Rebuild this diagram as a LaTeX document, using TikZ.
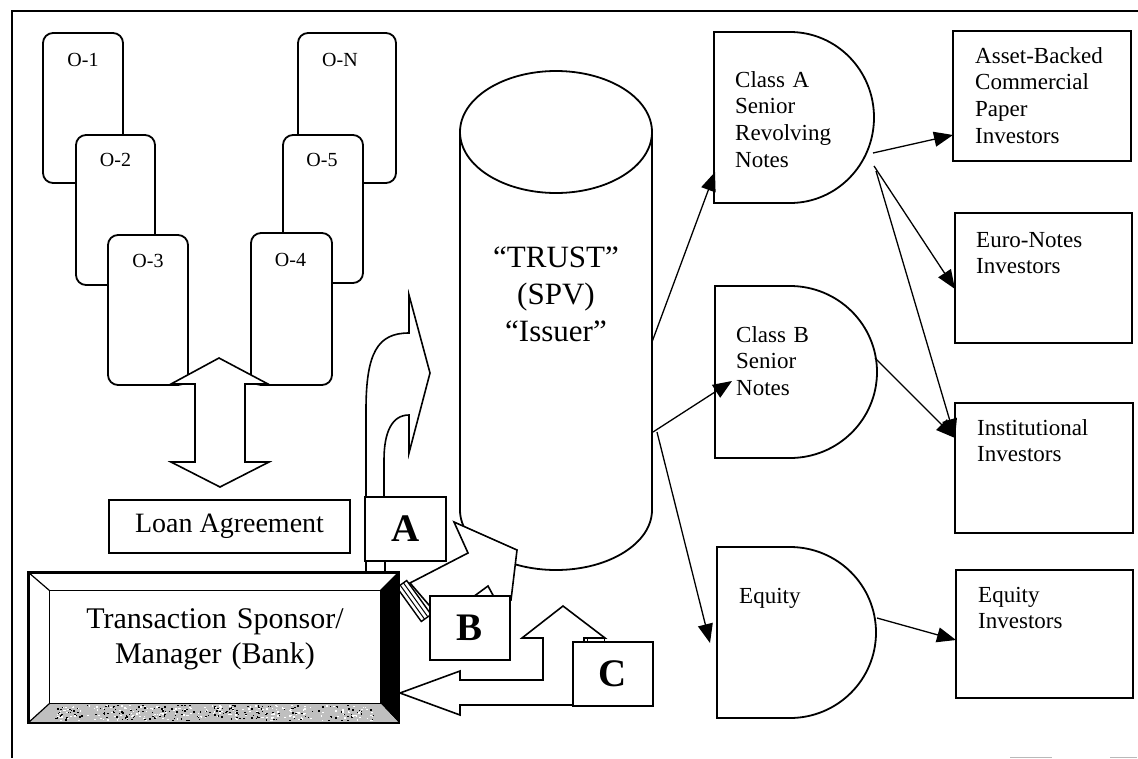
\documentclass[tikz,border=0pt]{standalone}
\usepackage{fontspec}
\setmainfont{Liberation Serif}
\usetikzlibrary{arrows.meta,calc}
\newcommand\dgcard{\fontsize{20}{24}\selectfont}
\newcommand\dgnote{\fontsize{23}{26.7}\selectfont}
\newcommand\dgloan{\fontsize{28}{33}\selectfont}
\newcommand\dgbank{\fontsize{30}{35}\selectfont}
\newcommand\dgtrust{\fontsize{31}{37}\selectfont}
\newcommand\dgletter{\fontsize{39}{45}\selectfont\bfseries}
\begin{document}
\begin{tikzpicture}[x=1pt,y=-1pt,
  outline/.style={line width=1.8pt},
  card/.style={draw, outline, fill=white, rounded corners=10pt, minimum height=150pt, inner sep=0pt},
  plainbox/.style={draw, outline, fill=white, inner sep=0pt},
  blockarrow/.style={draw, line width=1.6pt, fill=white, line join=miter},
  flow/.style={line width=1.3pt, -{Triangle[length=19pt,width=15pt]}},
  cardtext/.style={font=\dgcard, inner sep=0pt, anchor=base},
  notetext/.style={font=\dgnote, align=left, text width=150pt, inner sep=0pt, anchor=base west},
  letter/.style={font=\dgletter},
]
\useasboundingbox (0,0) rectangle (1138,758);

% page frame
\draw[outline] (1138,11) -- (12,11) -- (12,758);
\draw[gray!55, line width=1pt] (1010,757) -- (1052,757) (1110,757) -- (1137,757);

% originator cards, left stack
\node[card, minimum width=80pt] (o1) at (83,108) {};
\node[cardtext] (o1t) at ($(o1.north)+(0,34)$) {O-1};
\node[card, minimum width=79pt] (o2) at (115.5,210) {};
\node[cardtext] (o2t) at ($(o2.north)+(0,32)$) {O-2};
\node[card, minimum width=80pt] (o3) at (148,310) {};
\node[cardtext] (o3t) at ($(o3.north)+(0,33)$) {O-3};
% originator cards, right stack
\node[card, minimum width=98pt] (oN) at (347,108) {};
\node[cardtext] (oNt) at ($(oN.north)+(-7,34)$) {O-N};
\node[card, minimum width=80pt, minimum height=148pt] (o5) at (323,209) {};
\node[cardtext] (o5t) at ($(o5.north)+(-1,32)$) {O-5};
\node[card, minimum width=81pt, minimum height=152pt] (o4) at (291.5,309) {};
\node[cardtext] (o4t) at ($(o4.north)+(-1,34)$) {O-4};

% two-headed block arrow between the cards and the loan agreement
\draw[blockarrow] (219,358) -- (268,384) -- (245,384) -- (245,462) -- (269,462)
  -- (220,487) -- (171,462) -- (195,462) -- (195,384) -- (171,384) -- cycle;

\node[plainbox, minimum width=241pt, minimum height=53pt, font=\dgloan] (loan) at (229.5,526.5) {Loan Agreement};

% the trust cylinder
\draw[outline, fill=white] (460,132) -- (460,510)
  arc[start angle=180, end angle=0, x radius=96, y radius=60] -- (652,132);
\draw[outline, fill=white] (556,132) ellipse [x radius=96, y radius=61];
\node[font=\dgtrust, align=center, text width=190pt, inner sep=0pt, anchor=base] (trust) at (556,267) {“TRUST”\\(SPV)\\“Issuer”};

% curved block arrow rising from box A
\draw[blockarrow] (366,497) -- (366,410) .. controls (366,352) and (378,333) .. (409,333)
  -- (409,295) -- (430,373) -- (409,453) -- (409,415)
  .. controls (392,415) and (384,432) .. (384,460) -- (384,497) -- cycle;
\node[plainbox, minimum width=81pt, minimum height=64pt, letter] (boxA) at (405.5,529) {A};
\node[plainbox, minimum width=19pt, minimum height=12pt] (tabA) at (375.5,567) {};

% block arrow towards the trust behind box B
\draw[blockarrow] (410,583) -- (468,553) -- (454,522) -- (517,550) -- (511,600) -- (435,612) -- cycle;
\draw[line width=1.6pt, fill=white] (473,597) -- (488,586) -- (494,597);
% striped hinge at the sponsor's corner
\draw[line width=1.4pt, fill=white] (396.9,587.5) -- (406.7,580.5) -- (431.1,614.5) -- (421.3,621.5) -- cycle;
\draw[line width=1pt] (400.2,585.2) -- (424.6,619.2) (403.4,582.8) -- (427.8,616.8);
\node[plainbox, minimum width=80pt, minimum height=64pt, letter] (boxB) at (470,628) {B};

% bent two-headed block arrow for C
\draw[blockarrow] (400,693) -- (460,671) -- (460,680) -- (543,680) -- (543,638) -- (522,638)
  -- (563,606) -- (605,638) -- (584,638) -- (584,705) -- (460,705) -- (460,715) -- cycle;
\node[plainbox, minimum width=80pt, minimum height=64pt, letter] (boxC) at (613,674) {C};
\node[plainbox, minimum width=17pt, minimum height=4pt] (tabC) at (596,640) {};

% bevelled sponsor box
\node[draw, outline, fill=white, minimum width=369pt, minimum height=149pt, inner sep=0pt] (bank) at (213.5,647.5) {};
\node[minimum width=330pt, minimum height=112pt, inner sep=0pt] (bankin) at (215,647) {};
\fill[black] (bank.north east) -- (bank.south east) -- (bankin.south east) -- (bankin.north east) -- cycle;
\fill[gray!50] (bank.south west) -- (bank.south east) -- (bankin.south east) -- (bankin.south west) -- cycle;
\pgfmathsetseed{11}
\foreach \i in {1,...,420}{
  \pgfmathsetmacro\px{55+rnd*320}
  \pgfmathsetmacro\py{705+rnd*15}
  \pgfmathsetmacro\pc{rnd<0.5 ? "black" : "white"}
  \fill[\pc] (\px,\py) rectangle ++(1.6,1.3);
}
\draw[line width=1.2pt] (bankin.north west) rectangle (bankin.south east);
\draw[line width=1.2pt] (bank.north west) -- (bankin.north west)
  (bank.north east) -- (bankin.north east) (bank.south west) -- (bankin.south west);
\draw[outline] (bank.north west) rectangle (bank.south east);
\node[font=\dgbank, align=center, text width=330pt, inner sep=0pt, anchor=base] (bankt) at (215,628) {Transaction Sponsor/\\Manager (Bank)};

% note classes
\draw[outline, fill=white] (714,32) -- (790,32) arc[start angle=-90, end angle=90, x radius=84, y radius=85.5] -- (714,203) -- cycle;
\node[notetext] (classA) at (735,87) {Class A\\Senior\\Revolving\\Notes};
\draw[outline, fill=white] (715,286) -- (790,286) arc[start angle=-90, end angle=90, x radius=87, y radius=86] -- (715,458) -- cycle;
\node[notetext] (classB) at (736,342) {Class B\\Senior\\Notes};
\draw[outline, fill=white] (717,547) -- (790,547) arc[start angle=-90, end angle=90, x radius=86, y radius=85.5] -- (717,718) -- cycle;
\node[notetext] (equity) at (739,603) {Equity};

% investor boxes
\node[plainbox, minimum width=178pt, minimum height=130pt] (abcp) at (1042,96) {};
\node[notetext] (abcpt) at (975,63) {Asset-Backed\\Commercial\\Paper\\Investors};
\node[plainbox, minimum width=177pt, minimum height=130pt] (euro) at (1043.5,278) {};
\node[notetext] (eurot) at (976,247) {Euro-Notes\\Investors};
\node[plainbox, minimum width=178pt, minimum height=130pt] (inst) at (1044,468) {};
\node[notetext] (instt) at (977,435) {Institutional\\Investors};
\node[plainbox, minimum width=177pt, minimum height=128pt] (eqinv) at (1044.5,634) {};
\node[notetext] (eqinvt) at (978,602) {Equity\\Investors};

% connector end points
\coordinate (trA) at (652,342);
\coordinate (trB) at (653,432);
\coordinate (trE) at (657,432);
\coordinate (inA) at (715,172);
\coordinate (inB) at (732,381);
\coordinate (inE) at (710,643);
\coordinate (outA1) at (873,153);
\coordinate (outA2) at (874,166);
\coordinate (outA3) at (876,171);
\coordinate (outB) at (875,358);
\coordinate (outE) at (877,618);
\coordinate (inAbcp) at (953,135);
\coordinate (inEuro) at (955,289);
\coordinate (inInst) at (955,438);
\coordinate (inEqinv) at (956,640);

\draw[flow] (trA) -- (inA);
\draw[flow] (trB) -- (inB);
\draw[flow] (trE) -- (inE);
\draw[flow] (outA1) -- (inAbcp);
\draw[flow] (outA2) -- (inEuro);
\draw[flow] (outA3) -- (inInst);
\draw[flow] (outB) -- (inInst);
\draw[flow] (outE) -- (inEqinv);
\end{tikzpicture}
\end{document}
